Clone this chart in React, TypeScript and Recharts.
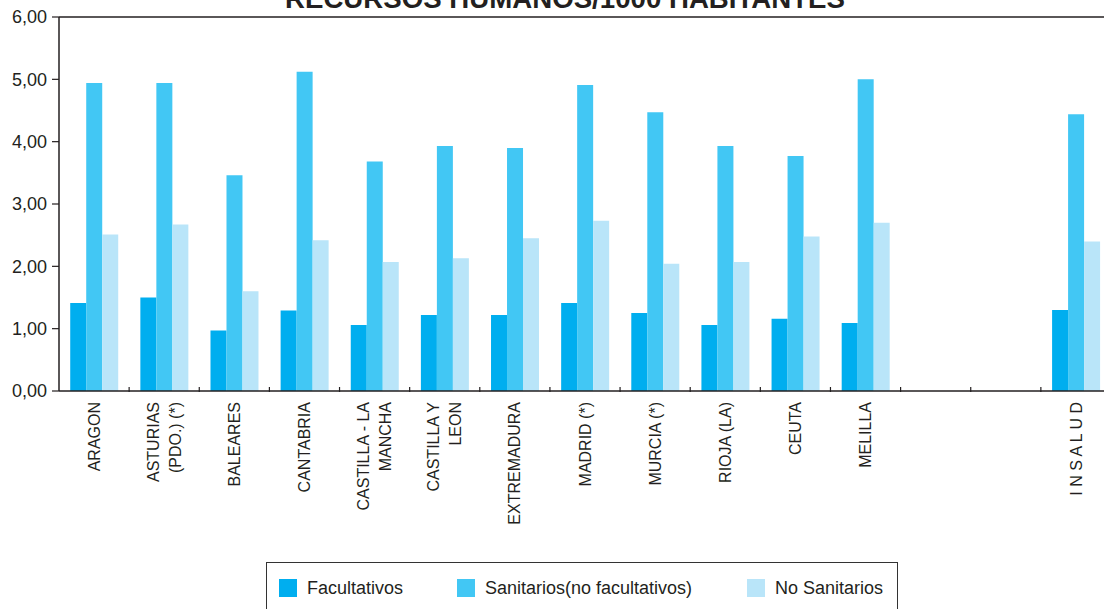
import React from 'react';
import { BarChart, Bar, XAxis, YAxis, Legend, ReferenceLine } from 'recharts';

const categories = [
  'ARAGON',
  'ASTURIAS\n(PDO.) (*)',
  'BALEARES',
  'CANTABRIA',
  'CASTILLA - LA\nMANCHA',
  'CASTILLA Y\nLEON',
  'EXTREMADURA',
  'MADRID (*)',
  'MURCIA (*)',
  'RIOJA (LA)',
  'CEUTA',
  'MELILLA',
  '',
  ' ',
  'I N S A L U D',
];

const facultativos = [1.41, 1.5, 0.97, 1.29, 1.06, 1.22, 1.22, 1.41, 1.25, 1.06, 1.16, 1.09, null, null, 1.3];
const sanitarios = [4.94, 4.94, 3.46, 5.12, 3.68, 3.93, 3.9, 4.91, 4.47, 3.93, 3.77, 5.0, null, null, 4.44];
const noSanitarios = [2.51, 2.67, 1.6, 2.42, 2.07, 2.13, 2.45, 2.73, 2.04, 2.07, 2.48, 2.7, null, null, 2.4];

const yTicks = [0, 1, 2, 3, 4, 5, 6];

const seriesNames = ['Facultativos', 'Sanitarios(no facultativos)', 'No Sanitarios'];
const colors = ['#00AEEF', '#42C7F4', '#B9E5F9'];

const title = 'RECURSOS HUMANOS/1000 HABITANTES';

const data = categories.map((name, i) => ({
  name,
  fac: facultativos[i],
  san: sanitarios[i],
  nosan: noSanitarios[i],
}));

const CHART_W = 1130;
const CHART_H = 609;
const MARGIN = { top: 17, right: 19, left: 0, bottom: 188 };
const YAXIS_W = 59;
const BAND = (CHART_W - MARGIN.left - MARGIN.right - YAXIS_W) / categories.length;
const FONT = '"Liberation Sans", Arial, Helvetica, sans-serif';
const TEXT = '#231f20';

const XTick = (props: any) => {
  const { x, y, payload, index } = props;
  const lines = String(payload.value).split('\n').filter((l: string) => l.trim().length > 0);
  const n = lines.length;
  const bx = x - BAND / 2;
  return (
    <g>
      {index > 0 && <line x1={bx} x2={bx} y1={y - 4} y2={y + 1} stroke={TEXT} strokeWidth={1.2} />}
      {lines.map((l: string, i: number) => {
        const cx = x + (i - (n - 1) / 2) * 22;
        const ty = y + 11;
        return (
          <text
            key={i}
            x={cx}
            y={ty}
            dy="0.35em"
            textAnchor="end"
            transform={`rotate(-90, ${cx}, ${ty})`}
            fontSize={16}
            fontFamily={FONT}
            fill={TEXT}
          >
            {l}
          </text>
        );
      })}
    </g>
  );
};

const legendOffsets = [12, 190, 480];

const LegendContent = (props: any) => {
  const payload = [...(props.payload || [])].sort(
    (a: any, b: any) => seriesNames.indexOf(a.value) - seriesNames.indexOf(b.value)
  );
  return (
    <div
      style={{
        position: 'relative',
        width: 632,
        height: 60,
        border: '1.5px solid #333',
        boxSizing: 'border-box',
        fontFamily: FONT,
        fontSize: 18,
        color: TEXT,
        background: '#fff',
      }}
    >
      {payload.map((p: any, i: number) => (
        <div
          key={i}
          style={{
            position: 'absolute',
            left: legendOffsets[i],
            top: 15,
            display: 'flex',
            alignItems: 'center',
            whiteSpace: 'nowrap',
          }}
        >
          <span style={{ display: 'inline-block', width: 18, height: 18, background: p.color, marginRight: 10 }} />
          <span style={{ lineHeight: '20px' }}>{p.value}</span>
        </div>
      ))}
    </div>
  );
};

export default function App() {
  return (
    <div
      style={{
        position: 'absolute',
        left: 0,
        top: 0,
        width: 1104,
        height: 609,
        overflow: 'hidden',
        background: '#fff',
        fontFamily: FONT,
      }}
    >
      <svg width={1104} height={30} style={{ position: 'absolute', left: 0, top: 0, zIndex: 2 }}>
        <text
          x={565}
          y={8}
          textAnchor="middle"
          fontSize={27}
          fontWeight="bold"
          fontFamily={FONT}
          fill={TEXT}
          textLength={560}
          lengthAdjust="spacingAndGlyphs"
        >
          {title}
        </text>
      </svg>
      <BarChart
        width={CHART_W}
        height={CHART_H}
        data={data}
        margin={MARGIN}
        barCategoryGap="16%"
        barGap={0}
      >
        <XAxis
          dataKey="name"
          height={30}
          interval={0}
          tickLine={false}
          tickSize={0}
          tickMargin={0}
          axisLine={{ stroke: TEXT, strokeWidth: 1.5 }}
          tick={<XTick />}
        />
        <YAxis
          width={YAXIS_W}
          domain={[0, 6]}
          ticks={yTicks}
          interval={0}
          tickFormatter={(v: number) => v.toFixed(2).replace('.', ',')}
          tickSize={7}
          tickMargin={5}
          axisLine={{ stroke: TEXT, strokeWidth: 1.5 }}
          tickLine={{ stroke: TEXT, strokeWidth: 1.2 }}
          tick={{ fontSize: 18, fontFamily: FONT, fill: TEXT }}
        />
        <ReferenceLine y={6} stroke={TEXT} strokeWidth={1.5} />
        <Bar dataKey="fac" name={seriesNames[0]} fill={colors[0]} isAnimationActive={false} />
        <Bar dataKey="san" name={seriesNames[1]} fill={colors[1]} isAnimationActive={false} />
        <Bar dataKey="nosan" name={seriesNames[2]} fill={colors[2]} isAnimationActive={false} />
        <Legend
          layout="horizontal"
          verticalAlign="middle"
          align="center"
          itemSorter={null as any}
          content={<LegendContent />}
          wrapperStyle={{ position: 'absolute', left: 266, top: 562, width: 632, height: 60 }}
        />
      </BarChart>
    </div>
  );
}
